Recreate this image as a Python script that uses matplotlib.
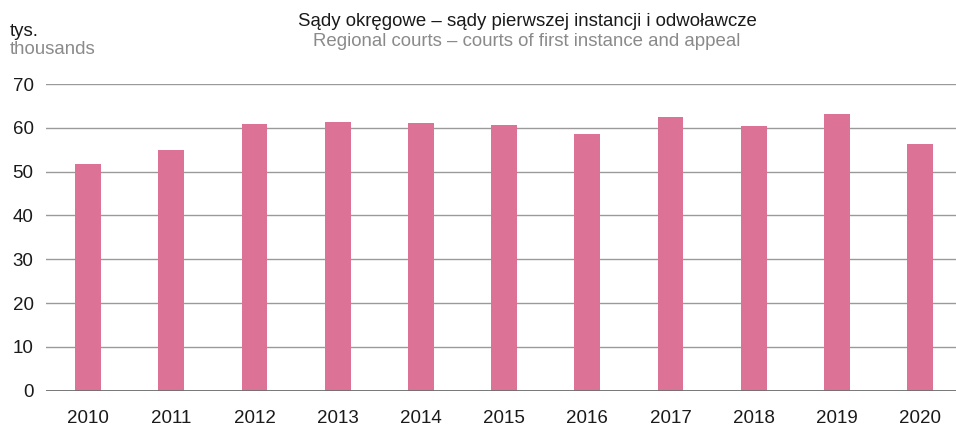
import matplotlib.pyplot as plt
import numpy as np

plt.rcParams['font.family'] = ['Liberation Sans', 'DejaVu Sans']

years = ['2010', '2011', '2012', '2013', '2014', '2015', '2016', '2017', '2018', '2019', '2020']
values = [51.7, 55.0, 60.8, 61.4, 61.0, 60.6, 58.7, 62.5, 60.5, 63.1, 56.2]
yticks = [0, 10, 20, 30, 40, 50, 60, 70]

W, H = 956, 426
fig = plt.figure(figsize=(W / 100, H / 100), dpi=100)
ax = fig.add_axes([46 / W, (H - 390.7) / H, (956 - 46) / W, (390.7 - 84) / H])

x = np.arange(len(years))
ax.bar(x, values, width=0.31, color='#dc7397', zorder=2)

ax.set_ylim(0, 70)
ax.set_xlim(-0.505, 10.43)
ax.set_yticks(yticks)
ax.set_xticks(x)
ax.set_xticklabels(years)
ax.grid(axis='y', color='#9a9a9a', linewidth=1.0, zorder=0)
ax.axhline(0, color='#707070', linewidth=1.3, zorder=3)
for s in ax.spines.values():
    s.set_visible(False)
ax.tick_params(length=0, labelsize=13.5, colors='#1a1a1a')
ax.tick_params(axis='x', pad=14)
ax.tick_params(axis='y', pad=9)

fig.text(527 / W, 1 - 22 / H, 'Sądy okręgowe – sądy pierwszej instancji i odwoławcze',
         ha='center', va='center', fontsize=13.4, color='#1a1a1a')
fig.text(527 / W, 1 - 41 / H, 'Regional courts – courts of first instance and appeal',
         ha='center', va='center', fontsize=13.4, color='#8a8a8a')
fig.text(10 / W, 1 - 32 / H, 'tys.', ha='left', va='center', fontsize=13.4, color='#1a1a1a')
fig.text(10 / W, 1 - 50 / H, 'thousands', ha='left', va='center', fontsize=13.4, color='#8a8a8a')

fig.savefig('out.png', dpi=100)
